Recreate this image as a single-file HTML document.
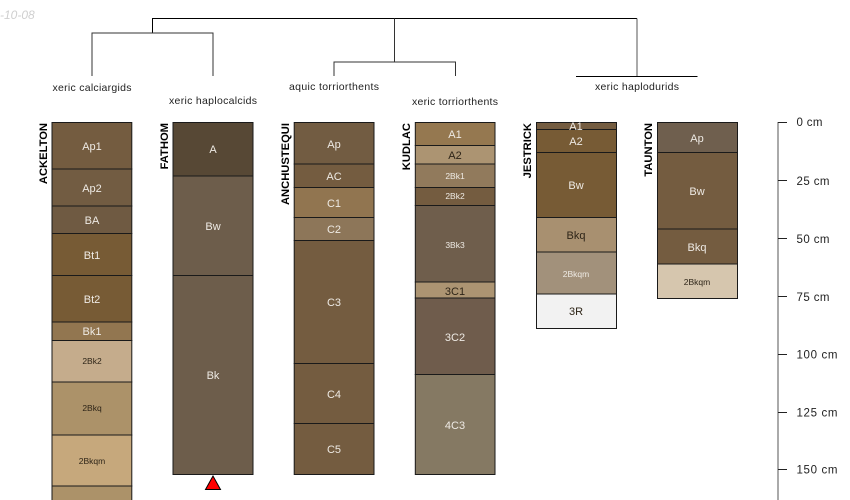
<!DOCTYPE html>
<html>
<head>
<meta charset="utf-8">
<style>
html,body{margin:0;padding:0;background:#fff;}
svg{display:block;font-family:"Liberation Sans",sans-serif;}
.h{stroke:#1a1a1a;stroke-width:1;}
.l{font-size:11px;text-anchor:middle;}
.s{font-size:8.5px;text-anchor:middle;}
.w{fill:#eeeae4;}
.d{fill:#2e2518;}
.n{font-size:11.2px;font-weight:bold;text-anchor:end;fill:#000;}
.t{font-size:10.5px;text-anchor:middle;fill:#222;}
.a{font-size:11.5px;fill:#222;}
</style>
</head>
<body>
<svg width="850" height="500" viewBox="0 0 850 500" xmlns="http://www.w3.org/2000/svg">
<text x="0" y="19" font-size="12" font-style="italic" fill="#cfcfcf">-10-08</text>

<!-- dendrogram -->
<g fill="none" stroke="#000" stroke-width="1">
<path d="M152.500 33V18.500H637" />
<path d="M394.500 18.500V62" stroke="#333"/>
<path d="M637 18.500V76" stroke="#555"/>
<path d="M92 76V33H213V76" stroke="#333"/>
<path d="M334 76V62H455.500V76" stroke="#333"/>
<path d="M576 76.500H697.500" />
</g>
<text class="t" x="92" y="91" textLength="79">xeric calciargids</text>
<text class="t" x="213" y="104" textLength="88">xeric haplocalcids</text>
<text class="t" x="334" y="90" textLength="90">aquic torriorthents</text>
<text class="t" x="455" y="105" textLength="86">xeric torriorthents</text>
<text class="t" x="637" y="90" textLength="84">xeric haplodurids</text>

<!-- names -->
<text class="n" transform="translate(47,123) rotate(-90)">ACKELTON</text>
<text class="n" transform="translate(168,123) rotate(-90)">FATHOM</text>
<text class="n" transform="translate(289,123) rotate(-90)">ANCHUSTEQUI</text>
<text class="n" transform="translate(410,123) rotate(-90)">KUDLAC</text>
<text class="n" transform="translate(531,123) rotate(-90)">JESTRICK</text>
<text class="n" transform="translate(652,123) rotate(-90)">TAUNTON</text>

<!-- ACKELTON -->
<g class="h">
<rect x="52" y="122.500" width="79.800" height="46.500" fill="#745c40"/>
<rect x="52" y="169" width="79.800" height="37" fill="#725c42"/>
<rect x="52" y="206" width="79.800" height="27.500" fill="#6f5a42"/>
<rect x="52" y="233.500" width="79.800" height="42" fill="#775b35"/>
<rect x="52" y="275.500" width="79.800" height="46.500" fill="#775b35"/>
<rect x="52" y="322" width="79.800" height="18.500" fill="#927650"/>
<rect x="52" y="340.500" width="79.800" height="41.500" fill="#c5ac8c"/>
<rect x="52" y="382" width="79.800" height="53" fill="#ac9269"/>
<rect x="52" y="435" width="79.800" height="51" fill="#c6a87c"/>
<rect x="52" y="486" width="79.800" height="20" fill="#ac9269"/>
</g>
<text class="l w" x="92" y="150">Ap1</text>
<text class="l w" x="92" y="192">Ap2</text>
<text class="l w" x="92" y="224">BA</text>
<text class="l w" x="92" y="259">Bt1</text>
<text class="l w" x="92" y="303">Bt2</text>
<text class="l w" x="92" y="335">Bk1</text>
<text class="s d" x="92" y="364">2Bk2</text>
<text class="s d" x="92" y="411">2Bkq</text>
<text class="s d" x="92" y="464">2Bkqm</text>

<!-- FATHOM -->
<g class="h">
<rect x="173" y="122.500" width="80" height="53.500" fill="#574835"/>
<rect x="173" y="176" width="80" height="99.500" fill="#6d5d4b"/>
<rect x="173" y="275.500" width="80" height="199" fill="#6d5d4b"/>
</g>
<text class="l w" x="213" y="153">A</text>
<text class="l w" x="213" y="230">Bw</text>
<text class="l w" x="213" y="379">Bk</text>
<polygon points="213,476 205.500,489.500 220.500,489.500" fill="#f00" stroke="#000" stroke-width="1"/>

<!-- ANCHUSTEQUI -->
<g class="h">
<rect x="294.200" y="122.500" width="79.800" height="41.500" fill="#725c42"/>
<rect x="294.200" y="164" width="79.800" height="23.500" fill="#745c40"/>
<rect x="294.200" y="187.500" width="79.800" height="30" fill="#917550"/>
<rect x="294.200" y="217.500" width="79.800" height="23" fill="#8d7659"/>
<rect x="294.200" y="240.500" width="79.800" height="123" fill="#745c40"/>
<rect x="294.200" y="363.500" width="79.800" height="60" fill="#745c40"/>
<rect x="294.200" y="423.500" width="79.800" height="51" fill="#745c40"/>
</g>
<text class="l w" x="334" y="148">Ap</text>
<text class="l w" x="334" y="180">AC</text>
<text class="l w" x="334" y="207">C1</text>
<text class="l w" x="334" y="233">C2</text>
<text class="l w" x="334" y="306">C3</text>
<text class="l w" x="334" y="398">C4</text>
<text class="l w" x="334" y="453">C5</text>

<!-- KUDLAC -->
<g class="h">
<rect x="415.300" y="122.500" width="79.700" height="23" fill="#957850"/>
<rect x="415.300" y="145.500" width="79.700" height="18.500" fill="#ac9472"/>
<rect x="415.300" y="164" width="79.700" height="23.500" fill="#917a5c"/>
<rect x="415.300" y="187.500" width="79.700" height="18" fill="#745c40"/>
<rect x="415.300" y="205.500" width="79.700" height="76.500" fill="#6f5e4c"/>
<rect x="415.300" y="282" width="79.700" height="16" fill="#ac9472"/>
<rect x="415.300" y="298" width="79.700" height="76.500" fill="#6f5c4c"/>
<rect x="415.300" y="374.500" width="79.700" height="100" fill="#857963"/>
</g>
<text class="l w" x="455" y="138">A1</text>
<text class="l d" x="455" y="159">A2</text>
<text class="s w" x="455" y="179">2Bk1</text>
<text class="s w" x="455" y="199">2Bk2</text>
<text class="s w" x="455" y="248">3Bk3</text>
<text class="l d" x="455" y="295">3C1</text>
<text class="l w" x="455" y="341">3C2</text>
<text class="l w" x="455" y="429">4C3</text>

<!-- JESTRICK -->
<g class="h">
<rect x="536.500" y="122.500" width="80" height="7" fill="#745c40"/>
<rect x="536.500" y="129.500" width="80" height="23" fill="#775b35"/>
<rect x="536.500" y="152.500" width="80" height="65" fill="#775b35"/>
<rect x="536.500" y="217.500" width="80" height="34.500" fill="#a89070"/>
<rect x="536.500" y="252" width="80" height="42" fill="#a2917b"/>
<rect x="536.500" y="294" width="80" height="34.500" fill="#f2f2f2"/>
</g>
<text class="l w" x="576" y="130">A1</text>
<text class="l w" x="576" y="145">A2</text>
<text class="l w" x="576" y="189">Bw</text>
<text class="l d" x="576" y="239">Bkq</text>
<text class="s w" x="576" y="277">2Bkqm</text>
<text class="l d" x="576" y="315">3R</text>

<!-- TAUNTON -->
<g class="h">
<rect x="657.500" y="122.500" width="80" height="30" fill="#6f5f4e"/>
<rect x="657.500" y="152.500" width="80" height="76.500" fill="#745c40"/>
<rect x="657.500" y="229" width="80" height="35" fill="#745c40"/>
<rect x="657.500" y="264" width="80" height="34.500" fill="#d6c6ae"/>
</g>
<text class="l w" x="697" y="142">Ap</text>
<text class="l w" x="697" y="195">Bw</text>
<text class="l w" x="697" y="251">Bkq</text>
<text class="s d" x="697" y="285">2Bkqm</text>

<!-- depth axis -->
<path d="M778 122V500" stroke="#555" stroke-width="1" fill="none"/>
<g stroke="#222" stroke-width="1">
<path d="M778 122.500H787"/>
<path d="M778 180.500H787"/>
<path d="M778 238.500H787"/>
<path d="M778 296.500H787"/>
<path d="M778 354.500H787"/>
<path d="M778 412.500H787"/>
<path d="M778 469.500H787"/>
</g>
<text class="a" x="796.500" y="126" textLength="26">0 cm</text>
<text class="a" x="796.500" y="185" textLength="33">25 cm</text>
<text class="a" x="796.500" y="243" textLength="33">50 cm</text>
<text class="a" x="796.500" y="301" textLength="33">75 cm</text>
<text class="a" x="796.500" y="358.500" textLength="41">100 cm</text>
<text class="a" x="796.500" y="416.500" textLength="41">125 cm</text>
<text class="a" x="796.500" y="473.500" textLength="41">150 cm</text>
</svg>
</body>
</html>
